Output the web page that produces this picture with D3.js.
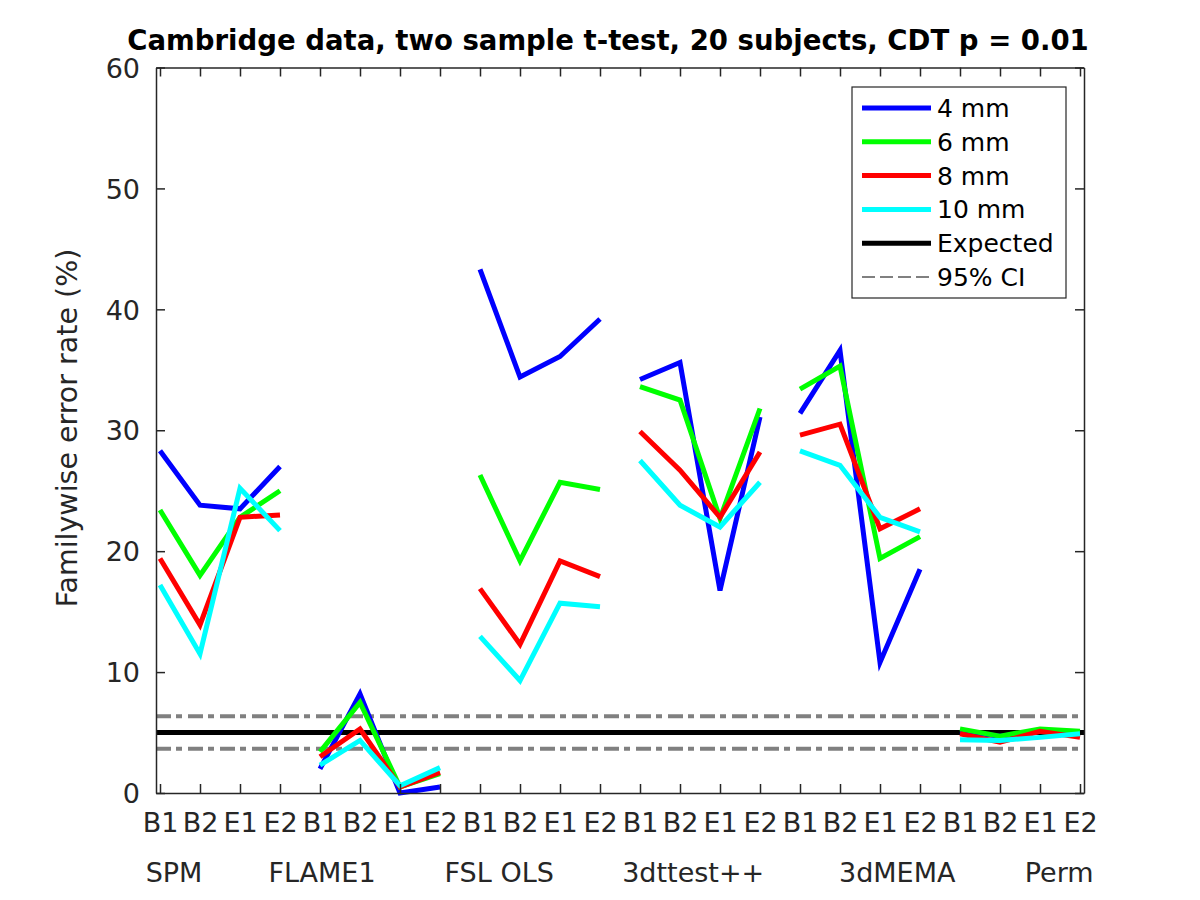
<!DOCTYPE html>
<html>
<head>
<meta charset="utf-8">
<script src="https://cdn.jsdelivr.net/npm/d3@7"></script>
<style>
  body { margin: 0; background: #fff; }
  text { font-family: "DejaVu Sans", sans-serif; }
</style>
</head>
<body>
<script>
const width = 1200;
const height = 900;

// data
const methods = ["SPM", "FLAME1", "FSL OLS", "3dttest++", "3dMEMA", "Perm"];
const methodLabelPos = [1.35, 5.05, 9.48, 14.33, 19.43, 23.48];
const contrasts = ["B1", "B2", "E1", "E2"];
const smoothings = ["4 mm", "6 mm", "8 mm", "10 mm"];
const colors = ["#0000ff", "#00ff00", "#ff0000", "#00ffff"];

const fwe4mm = [28.3, 23.8, 23.5, 27.0, 2.0, 8.2, 0.0, 0.5, 43.3, 34.4, 36.1, 39.2,
  34.2, 35.6, 16.75, 31.1, 31.4, 36.6, 10.8, 18.5, 5.1, 4.7, 5.1, 5.0];
const fwe6mm = [23.4, 18.0, 22.8, 25.0, 3.4, 7.5, 0.5, 1.6, 26.3, 19.2, 25.7, 25.1,
  33.6, 32.5, 22.7, 31.8, 33.4, 35.3, 19.4, 21.2, 5.3, 4.7, 5.3, 5.1];
const fwe8mm = [19.4, 13.9, 22.8, 23.0, 3.0, 5.3, 0.5, 1.7, 16.9, 12.3, 19.2, 17.9,
  29.9, 26.7, 22.8, 28.2, 29.6, 30.5, 21.85, 23.5, 4.9, 4.2, 5.1, 4.6];
const fwe10mm = [17.2, 11.5, 25.2, 21.7, 2.3, 4.35, 0.6, 2.1, 12.95, 9.3, 15.7, 15.4,
  27.5, 23.8, 22.0, 25.7, 28.3, 27.1, 22.8, 21.6, 4.4, 4.35, 4.6, 4.9];
const series = [fwe4mm, fwe6mm, fwe8mm, fwe10mm];

const expected = 5;
const ciBounds = [3.65, 6.35];
const yTicks = [0, 10, 20, 30, 40, 50, 60];

const axisColor = "#262626";

const x = d3.scaleLinear().domain([0.9, 24.1]).range([156, 1084]);
const y = d3.scaleLinear().domain([0, 60]).range([793, 67.5]);
const positions = d3.range(1, 25);

const svg = d3
  .select("body")
  .append("svg")
  .attr("width", width)
  .attr("height", height);

// expected rate and confidence interval
const [x0, x1] = x.domain();
svg
  .append("g")
  .selectAll("line")
  .data(ciBounds)
  .join("line")
  .attr("x1", x(x0))
  .attr("x2", x(x1))
  .attr("y1", (d) => y(d))
  .attr("y2", (d) => y(d))
  .attr("stroke", "#808080")
  .attr("stroke-width", 4)
  .attr("stroke-dasharray", "15,5,6,6");

svg
  .append("line")
  .attr("x1", x(x0))
  .attr("x2", x(x1))
  .attr("y1", y(expected))
  .attr("y2", y(expected))
  .attr("stroke", "#000")
  .attr("stroke-width", 5);

// one short line per method and smoothing
const line = d3
  .line()
  .x((d) => x(d[0]))
  .y((d) => y(d[1]));

series.forEach((vals, s) => {
  svg
    .append("g")
    .selectAll("path")
    .data(methods.map((m, i) => contrasts.map((c, j) => [i * 4 + j + 1, vals[i * 4 + j]])))
    .join("path")
    .attr("d", line)
    .attr("fill", "none")
    .attr("stroke", colors[s])
    .attr("stroke-width", 5)
    .attr("stroke-linejoin", "miter");
});

// axes, box style with inward ticks
const tickLabels = positions.map((p) => contrasts[(p - 1) % 4]);

const xAxis = svg
  .append("g")
  .attr("transform", `translate(0,${y(0)})`)
  .call(
    d3.axisBottom(x).tickValues(positions).tickFormat((d, i) => tickLabels[i])
      .tickSizeInner(-9).tickSizeOuter(0).tickPadding(20)
  );

svg
  .append("g")
  .attr("transform", `translate(0,${y(60)})`)
  .call(d3.axisTop(x).tickValues(positions).tickFormat("").tickSizeInner(-9).tickSizeOuter(0));

const yAxis = svg
  .append("g")
  .attr("transform", `translate(${x(x0)},0)`)
  .call(d3.axisLeft(y).tickValues(yTicks).tickSizeInner(-9).tickSizeOuter(0).tickPadding(16));

svg
  .append("g")
  .attr("transform", `translate(${x(x1)},0)`)
  .call(d3.axisRight(y).tickValues(yTicks).tickFormat("").tickSizeInner(-9).tickSizeOuter(0));

svg.selectAll(".domain, .tick line").attr("stroke", axisColor).attr("stroke-width", 1.5);
svg.selectAll(".tick text").attr("fill", axisColor).attr("font-size", 27);
yAxis.selectAll(".tick text").attr("dy", "0.36em");

// method names below tick labels
svg
  .append("g")
  .selectAll("text")
  .data(methods)
  .join("text")
  .attr("x", (d, i) => x(methodLabelPos[i]))
  .attr("y", 882)
  .attr("text-anchor", "middle")
  .attr("font-size", 27)
  .attr("fill", axisColor)
  .text((d) => d);

svg
  .append("text")
  .attr("transform", "translate(77,428) rotate(-90)")
  .attr("text-anchor", "middle")
  .attr("font-size", 28.5)
  .attr("fill", axisColor)
  .text("Familywise error rate (%)");

const title = svg
  .append("text")
  .attr("x", 608)
  .attr("y", 50)
  .attr("text-anchor", "middle")
  .attr("font-size", 28)
  .attr("font-weight", "bold")
  .attr("fill", "#000")
  .text("Cambridge data, two sample t-test, 20 subjects, CDT p = 0.01");
const tw = title.node().getComputedTextLength();
if (tw > 962) title.attr("font-size", 28 * 962 / tw);

// legend
const legendItems = smoothings
  .map((name, i) => ({ name, color: colors[i], width: 5, dash: null }))
  .concat([
    { name: "Expected", color: "#000", width: 5, dash: null },
    { name: "95% CI", color: "#808080", width: 2, dash: "13,5" },
  ]);

const legend = svg.append("g").attr("transform", "translate(852,87)");
legend
  .append("rect")
  .attr("width", 214)
  .attr("height", 211)
  .attr("fill", "#fff")
  .attr("stroke", axisColor)
  .attr("stroke-width", 1.2);

const row = legend
  .selectAll("g")
  .data(legendItems)
  .join("g")
  .attr("transform", (d, i) => `translate(0,${21 + i * 33.8})`);

row
  .append("line")
  .attr("x1", 10)
  .attr("x2", 79)
  .attr("stroke", (d) => d.color)
  .attr("stroke-width", (d) => d.width)
  .attr("stroke-dasharray", (d) => d.dash);

row
  .append("text")
  .attr("x", 85)
  .attr("dy", "0.36em")
  .attr("font-size", 25)
  .attr("fill", "#000")
  .text((d) => d.name);
</script>
</body>
</html>
